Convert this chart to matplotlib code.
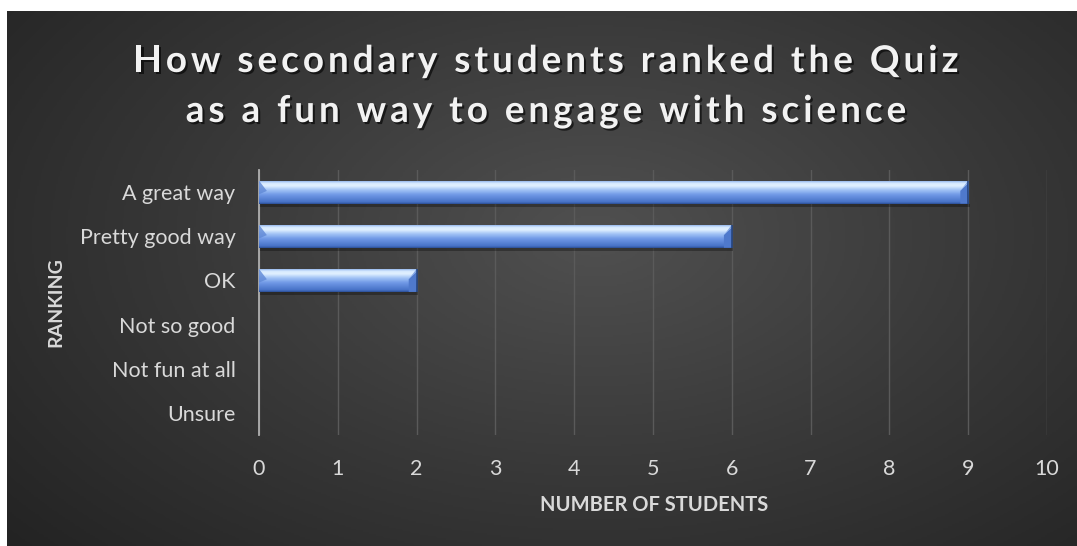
import numpy as np
import matplotlib.pyplot as plt
import matplotlib.patheffects as pe
from matplotlib.colors import LinearSegmentedColormap
from matplotlib import font_manager
from matplotlib.ft2font import FT2Font, LoadFlags

# data
categories = ['A great way', 'Pretty good way', 'OK', 'Not so good', 'Not fun at all', 'Unsure']
students = [9, 6, 2, 0, 0, 0]
xticks = list(range(0, 11))
title_lines = ['How secondary students ranked the Quiz', 'as a fun way to engage with science']

W, H = 1077, 546
fig = plt.figure(figsize=(W / 100, H / 100), dpi=100)
fig.patch.set_facecolor('white')

# dark panel with radial gradient
bg = fig.add_axes([7 / W, 0, 1 - 7 / W, 1 - 11 / H])
bg.set_axis_off()
yy, xx = np.mgrid[0:1:300j, 0:1:600j]
r = np.sqrt(((xx - 0.55) / 0.75) ** 2 + ((yy - 0.42) / 0.9) ** 2)
shade = np.clip(1 - r, 0, 1)
bg_cmap = LinearSegmentedColormap.from_list('bg', ['#222222', '#383838', '#505050'])
bg.imshow(shade, cmap=bg_cmap, aspect='auto', extent=[0, 1, 0, 1], vmin=0, vmax=1)
bg.set_xlim(0, 1)
bg.set_ylim(0, 1)

# plot area
x0, x1 = 259, 1047
y0, y1 = 170, 435
ax = fig.add_axes([x0 / W, 1 - y1 / H, (x1 - x0) / W, (y1 - y0) / H])
ax.patch.set_alpha(0)

pos = np.arange(len(categories))
bars = ax.barh(pos, students, height=0.52, color='none', edgecolor='none', zorder=3)
ax.set_xlim(0, 10)
ax.set_ylim(len(categories) - 0.5, -0.5)

bar_cmap = LinearSegmentedColormap.from_list(
    'bar', [(0, '#2a4c92'), (0.07, '#4671c6'), (0.4, '#6f98e6'),
            (0.62, '#a3c4f6'), (0.8, '#e2f1ff'), (0.92, '#d6eaff'), (1, '#93b6ec')])
grad = np.linspace(0, 1, 64).reshape(-1, 1)
for b in bars:
    w = b.get_width()
    if w <= 0:
        continue
    bx, by, bh = b.get_x(), b.get_y(), b.get_height()
    xe = bx + w
    # shadow under the bar
    ax.fill_between([bx, xe + 0.02], by + bh, by + bh + 0.07, color='black', alpha=0.3, zorder=2, lw=0)
    ax.imshow(grad, cmap=bar_cmap, aspect='auto', extent=[bx, xe, by + bh, by],
              origin='lower', zorder=3, interpolation='bicubic')
    # bevelled ends
    bev = 0.1
    ax.fill([xe - bev, xe, xe, xe - bev], [by + bh * 0.45, by + bh * 0.1, by + bh, by + bh],
            color='#4f79cc', zorder=4, lw=0)
    ax.fill([xe - bev, xe, xe], [by + bh * 0.45, by, by + bh * 0.1],
            color='#7fa3e3', zorder=4, lw=0)
    ax.plot([xe, xe], [by, by + bh], color='#24447f', lw=1.2, zorder=5, solid_capstyle='butt')
    ax.fill([bx, bx + bev, bx], [by, by + bh * 0.45, by + bh * 0.6],
            color='#5f88d6', alpha=0.8, zorder=4, lw=0)

ax.set_xticks(xticks)
ax.set_yticks(pos)
ax.set_yticklabels(categories)
ax.grid(axis='x', color='#5a5a5a', lw=1, zorder=0)
ax.set_axisbelow(True)
for s in ['top', 'right', 'bottom']:
    ax.spines[s].set_visible(False)
ax.spines['left'].set_color('#b0b0b0')
ax.spines['left'].set_linewidth(1.3)
ax.tick_params(length=0, colors='#d9d9d9', labelsize=15.5)
ax.tick_params(axis='x', pad=17)
ax.tick_params(axis='y', pad=17)
for lab in ax.get_xticklabels() + ax.get_yticklabels():
    lab.set_fontfamily('Lato')

fig.text(654 / W, 1 - 505 / H, 'NUMBER OF STUDENTS', ha='center', va='center',
         color='#d9d9d9', fontsize=14.5, fontweight='bold', family='Lato')
fig.text(56 / W, 1 - 302 / H, 'RANKING', ha='center', va='center', rotation=90,
         color='#d9d9d9', fontsize=14, fontweight='bold', family='Lato')

# title, drawn letter by letter to get the wide tracking
title_size = 26.5
spacing = 4.0  # px between letters
fpath = font_manager.findfont(font_manager.FontProperties(family='Lato', weight='bold'))
ft = FT2Font(fpath)
ft.set_size(title_size, 100)
shadow = [pe.withSimplePatchShadow(offset=(1.5, -1.5), shadow_rgbFace='black', alpha=0.6)]
for line, base in zip(title_lines, [72, 122]):
    adv = [ft.load_char(ord(c), flags=LoadFlags.NO_HINTING).linearHoriAdvance / 65536 for c in line]
    total = sum(adv) + spacing * (len(line) - 1)
    cx = 546 - total / 2
    for c, a in zip(line, adv):
        if c != ' ':
            fig.text(cx / W, 1 - base / H, c, ha='left', va='baseline', color='#f2f2f2',
                     fontsize=title_size, fontweight='bold', family='Lato', path_effects=shadow)
        cx += a + spacing

fig.savefig('out.png', dpi=100, facecolor=fig.get_facecolor())
